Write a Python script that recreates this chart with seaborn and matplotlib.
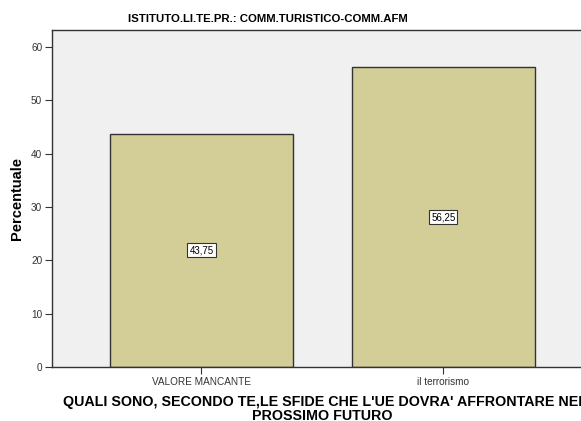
import matplotlib
matplotlib.use("Agg")
import matplotlib.pyplot as plt
import seaborn as sns
import pandas as pd

categories = ["VALORE MANCANTE", "il terrorismo"]
percentuali = [43.75, 56.25]
etichette = ["43,75", "56,25"]

df = pd.DataFrame({"categoria": categories, "percentuale": percentuali})

sns.set_theme(style="white")
plt.rcParams["font.family"] = ["Liberation Sans", "DejaVu Sans"]
plt.rcParams["text.color"] = "black"
plt.rcParams["axes.labelcolor"] = "black"

fig = plt.figure(figsize=(5.81, 4.21), dpi=100)
ax = fig.add_axes([0.0895, 0.128, 0.931, 0.801])
ax.set_facecolor("#f0f0f0")

sns.barplot(data=df, x="categoria", y="percentuale", color="#d3ce98",
            saturation=1, width=0.756, edgecolor="#333333", linewidth=1.0, ax=ax)

for i, (v, lab) in enumerate(zip(percentuali, etichette)):
    ax.text(i, v / 2, lab, ha="center", va="center", fontsize=7, color="black",
            bbox=dict(boxstyle="square,pad=0.2", facecolor="white", edgecolor="#333333", linewidth=0.8))

ax.set_xlim(-0.618, 1.618)
ax.set_ylim(0, 63.2)
ax.set_yticks([0, 10, 20, 30, 40, 50, 60])
ax.tick_params(axis="both", which="both", direction="out", length=5, width=0.8,
               colors="#333333", labelsize=7.2, labelcolor="#333333", pad=2,
               left=True, bottom=True)

for side in ["left", "bottom", "top"]:
    ax.spines[side].set_visible(True)
    ax.spines[side].set_color("#333333")
    ax.spines[side].set_linewidth(1.0)
ax.spines["right"].set_visible(False)

ax.set_ylabel("Percentuale", fontsize=10.5, fontweight="bold", labelpad=5)
ax.set_xlabel("QUALI SONO, SECONDO TE,LE SFIDE CHE L'UE DOVRA' AFFRONTARE NEI\nPROSSIMO FUTURO",
              fontsize=10.3, fontweight="bold", labelpad=6, linespacing=1.0)
fig.text(268 / 581, 1 - 19 / 421, "ISTITUTO.LI.TE.PR.: COMM.TURISTICO-COMM.AFM",
         fontsize=8.2, fontweight="bold", ha="center", va="center")

fig.savefig("out.png", dpi=100)
